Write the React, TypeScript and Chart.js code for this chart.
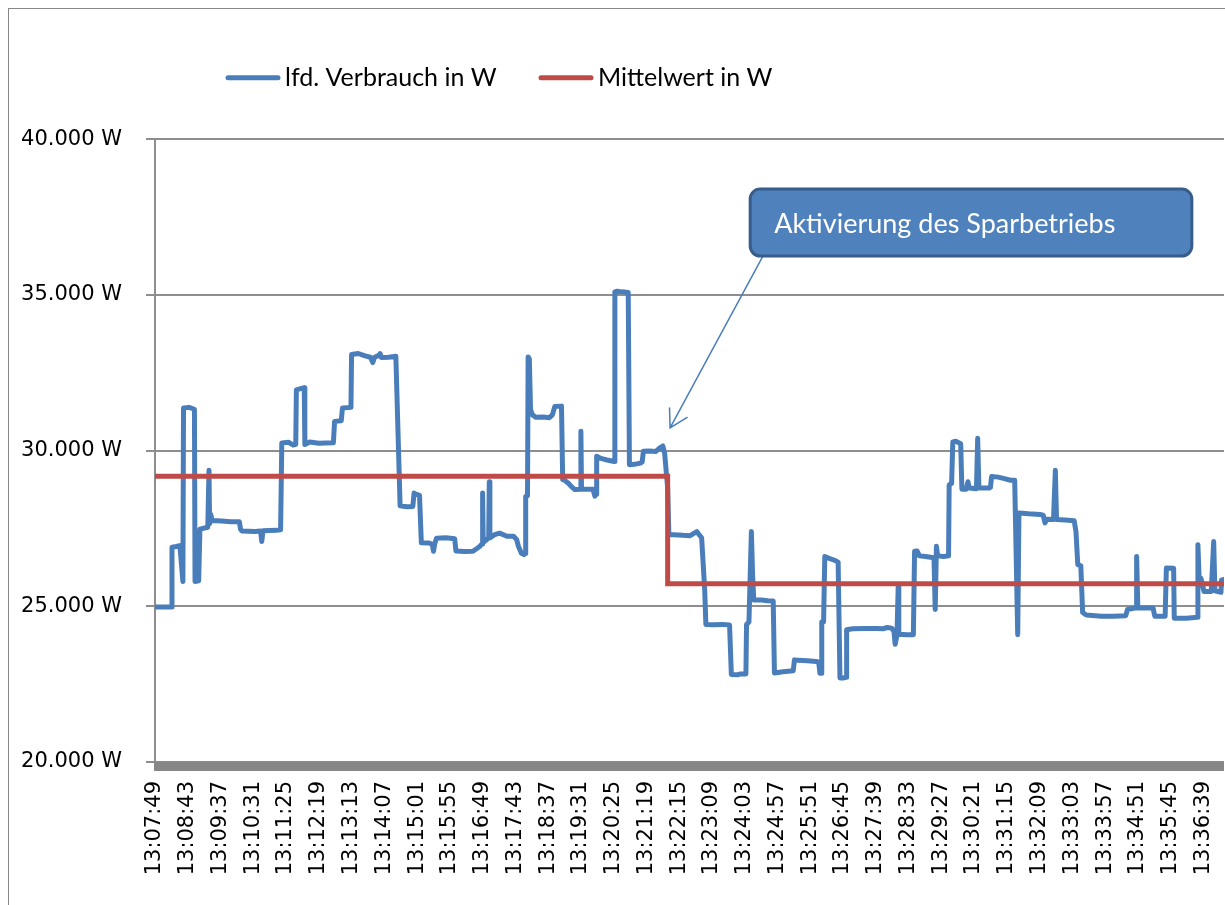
import React, { useEffect, useRef } from 'react';
import { Chart, registerables } from 'chart.js';

Chart.register(...registerables);

// ---------- data ----------
const TIME_LABELS = [
  '13:07:49', '13:08:43', '13:09:37', '13:10:31', '13:11:25', '13:12:19', '13:13:13',
  '13:14:07', '13:15:01', '13:15:55', '13:16:49', '13:17:43', '13:18:37', '13:19:31',
  '13:20:25', '13:21:19', '13:22:15', '13:23:09', '13:24:03', '13:24:57', '13:25:51',
  '13:26:45', '13:27:39', '13:28:33', '13:29:27', '13:30:21', '13:31:15', '13:32:09',
  '13:33:03', '13:33:57', '13:34:51', '13:35:45', '13:36:39',
];
const LABEL_STEP = 54; // measurement rows between two axis labels
const ROW_MAX = 1762; // last measurement row

const SERIES_NAMES = ['lfd. Verbrauch in W', 'Mittelwert in W'];

// lfd. Verbrauch: measurement row index and watts (change points)
const VERBRAUCH_ROWS = [
  0, 27, 28, 35, 41, 46, 47, 56, 65, 66, 72, 74, 87, 89, 90, 92, 94, 110, 125, 139,
  141, 143, 165, 174, 176, 178, 200, 207, 209, 220, 228, 232, 233, 240, 246, 247, 255, 270, 294, 296,
  307, 309, 323, 324, 335, 345, 355, 359, 362, 369, 371, 373, 385, 397, 404, 415, 425, 427, 430, 436,
  439, 452, 457, 459, 461, 464, 480, 494, 496, 510, 524, 530, 535, 539, 540, 541, 550, 551, 552, 560,
  568, 580, 591, 596, 599, 604, 608, 610, 611, 614, 615, 617, 619, 622, 628, 640, 650, 655, 659, 670,
  672, 675, 681, 686, 692, 701, 702, 703, 722, 725, 727, 728, 735, 745, 757, 758, 762, 770, 780, 782,
  790, 800, 803, 805, 815, 825, 833, 837, 840, 845, 847, 855, 870, 882, 893, 897, 901, 906, 908, 920,
  935, 947, 950, 960, 965, 974, 975, 979, 983, 985, 987, 1000, 1010, 1019, 1021, 1035, 1052, 1054, 1060, 1075,
  1090, 1094, 1096, 1098, 1099, 1102, 1104, 1110, 1120, 1126, 1129, 1134, 1139, 1140, 1150, 1170, 1190, 1200, 1207, 1214,
  1218, 1220, 1223, 1225, 1226, 1240, 1250, 1252, 1256, 1260, 1270, 1284, 1286, 1288, 1290, 1300, 1308, 1309, 1313, 1315,
  1320, 1328, 1330, 1337, 1340, 1342, 1354, 1356, 1358, 1375, 1377, 1379, 1390, 1400, 1410, 1417, 1422, 1424, 1440, 1459,
  1464, 1467, 1470, 1481, 1484, 1486, 1500, 1515, 1518, 1521, 1526, 1529, 1535, 1560, 1580, 1600, 1603, 1617, 1618, 1620,
  1645, 1648, 1665, 1667, 1679, 1680, 1700, 1718, 1719, 1721, 1724, 1729, 1741, 1745, 1747, 1757, 1758, 1762,
];
const VERBRAUCH_W = [
  24980, 24980, 26900, 26920, 26950, 25800, 31370, 31390, 31330, 25800, 25820, 27480, 27540, 29370, 27650, 27950, 27760, 27740, 27720, 27720,
  27480, 27420, 27400, 27420, 27080, 27430, 27440, 27460, 30250, 30270, 30180, 30200, 31950, 31990, 32020, 30200, 30280, 30240, 30250, 30940,
  30960, 31370, 31390, 33090, 33120, 33050, 33000, 32830, 33000, 33060, 33120, 32990, 33000, 33030, 28230, 28200, 28210, 28640, 28600, 28560,
  27040, 27030, 27000, 26770, 27000, 27190, 27200, 27170, 26780, 26760, 26770, 26850, 26920, 27000, 28640, 27050, 27200, 29000, 27200, 27300,
  27350, 27250, 27250, 27150, 26930, 26700, 26660, 26700, 28530, 28550, 33010, 32950, 31320, 31150, 31070, 31080, 31060, 31150, 31420, 31430,
  29070, 29050, 28960, 28850, 28750, 28760, 30620, 28760, 28760, 28540, 28600, 29820, 29750, 29700, 29650, 35100, 35120, 35100, 35080, 29550,
  29560, 29600, 29640, 29980, 29990, 29970, 30100, 30150, 29920, 28800, 27300, 27300, 27280, 27270, 27400, 27300, 27200, 25550, 24420, 24410,
  24420, 24400, 22810, 22800, 22830, 22830, 24420, 24500, 27400, 26000, 25200, 25200, 25180, 25170, 22860, 22900, 22930, 23280, 23270, 23250,
  23230, 23200, 22850, 22850, 24500, 24500, 26600, 26550, 26480, 26420, 22700, 22700, 22720, 24250, 24280, 24290, 24290, 24280, 24320, 24300,
  24200, 23780, 24080, 25640, 24100, 24090, 24090, 26770, 26780, 26620, 26600, 26560, 24900, 26930, 26620, 26600, 26620, 28900, 28950, 30280,
  30300, 30220, 28760, 28760, 29000, 28800, 28780, 30400, 28800, 28800, 28820, 29170, 29150, 29100, 29050, 29050, 24090, 28000, 27970, 27950,
  27930, 27680, 27800, 27790, 29370, 27790, 27770, 27750, 27400, 26340, 26300, 24800, 24720, 24680, 24680, 24700, 24900, 24950, 26600, 24950,
  24950, 24680, 24680, 26230, 26220, 24620, 24620, 24650, 26980, 25900, 25900, 25480, 25480, 27080, 25500, 25450, 25850, 25860,
];

// Mittelwert: before / after activation of the saving mode
const MITTEL_ROWS = [0, 845, 845, 1762];
const MITTEL_W = [29175, 29175, 25725, 25725];

const Y_MIN = 20000;
const Y_MAX = 40000;
const Y_STEP = 5000;

// Annotation (in data coordinates: rows / watts)
const ANNOTATION_TEXT = 'Aktivierung des Sparbetriebs';
const ANNOTATION_ROWS = [981, 1709];
const ANNOTATION_W = [38400, 36250];
const ARROW_FROM = [1002, 36250];
const ARROW_TO = [849, 30730];

// ---------- styles ----------
const BLUE = '#4A7EBB';
const RED = '#BE4B48';
const GRID = '#8E8E8E';
const CANVAS_W = 1224;
const CANVAS_H = 896;
const AREA_LEFT = 146;
const AREA_TOP = 130.3;
const AREA_RIGHT = 1215;
const AREA_BOTTOM = 753;

const fmtWatt = (v: number) => String(v).replace(/\B(?=(\d{3})+(?!\d))/g, '.') + ' W';

const bandPlugin = {
  id: 'axisBand',
  afterDatasetsDraw(chart: any) {
    const { ctx, chartArea } = chart;
    ctx.save();
    ctx.fillStyle = '#878787';
    ctx.fillRect(chartArea.left - 1, chartArea.bottom - 0.5, chartArea.right - chartArea.left + 1, 9.5);
    ctx.restore();
  },
};

const legendPlugin = {
  id: 'customLegend',
  afterDraw(chart: any) {
    const { ctx } = chart;
    const items = [
      { x: 217, color: BLUE, text: SERIES_NAMES[0] },
      { x: 530, color: RED, text: SERIES_NAMES[1] },
    ];
    ctx.save();
    for (const it of items) {
      ctx.strokeStyle = it.color;
      ctx.lineWidth = 5;
      ctx.lineCap = 'round';
      ctx.beginPath();
      ctx.moveTo(it.x + 2, 68.7);
      ctx.lineTo(it.x + 52, 68.7);
      ctx.stroke();
      ctx.fillStyle = '#000';
      ctx.font = '25px Lato';
      ctx.textBaseline = 'alphabetic';
      ctx.textAlign = 'left';
      ctx.fillText(it.text, it.x + 59, 76.7);
    }
    ctx.restore();
  },
};

const annotationPlugin = {
  id: 'sparAnnotation',
  afterDraw(chart: any) {
    const { ctx } = chart;
    const xs = chart.scales.x;
    const ys = chart.scales.y;
    const l = xs.getPixelForValue(ANNOTATION_ROWS[0]);
    const r = xs.getPixelForValue(ANNOTATION_ROWS[1]);
    const t = ys.getPixelForValue(ANNOTATION_W[0]);
    const b = ys.getPixelForValue(ANNOTATION_W[1]);
    const fx = xs.getPixelForValue(ARROW_FROM[0]);
    const fy = ys.getPixelForValue(ARROW_FROM[1]);
    const tx = xs.getPixelForValue(ARROW_TO[0]);
    const ty = ys.getPixelForValue(ARROW_TO[1]);
    ctx.save();
    // arrow
    ctx.strokeStyle = BLUE;
    ctx.lineWidth = 1.5;
    ctx.lineCap = 'round';
    ctx.beginPath();
    ctx.moveTo(fx, fy);
    ctx.lineTo(tx, ty);
    const ang = Math.atan2(fy - ty, fx - tx);
    const len = 20;
    const spread = (30 * Math.PI) / 180;
    ctx.moveTo(tx + len * Math.cos(ang - spread), ty + len * Math.sin(ang - spread));
    ctx.lineTo(tx, ty);
    ctx.lineTo(tx + len * Math.cos(ang + spread), ty + len * Math.sin(ang + spread));
    ctx.stroke();
    // box
    ctx.beginPath();
    ctx.roundRect(l, t, r - l, b - t, 10);
    ctx.fillStyle = '#4F81BD';
    ctx.fill();
    ctx.lineWidth = 3;
    ctx.strokeStyle = '#385D8A';
    ctx.stroke();
    ctx.fillStyle = '#FFFFFF';
    ctx.font = '27px Lato';
    ctx.textAlign = 'left';
    ctx.textBaseline = 'alphabetic';
    ctx.fillText(ANNOTATION_TEXT, l + 24, (t + b) / 2 + 10);
    ctx.restore();
  },
};

export default function App() {
  const ref = useRef<HTMLCanvasElement>(null);

  useEffect(() => {
    if (!ref.current) return;
    const verbrauch = VERBRAUCH_ROWS.map((x, i) => ({ x, y: VERBRAUCH_W[i] }));
    const mittel = MITTEL_ROWS.map((x, i) => ({ x, y: MITTEL_W[i] }));
    const chart = new Chart(ref.current, {
      type: 'line',
      data: {
        datasets: [
          {
            label: SERIES_NAMES[0],
            data: verbrauch,
            borderColor: BLUE,
            backgroundColor: BLUE,
            borderWidth: 5,
            pointRadius: 0,
            tension: 0,
            borderJoinStyle: 'round',
            borderCapStyle: 'round',
            order: 2,
          },
          {
            label: SERIES_NAMES[1],
            data: mittel,
            borderColor: RED,
            backgroundColor: RED,
            borderWidth: 5,
            pointRadius: 0,
            tension: 0,
            borderJoinStyle: 'miter',
            borderCapStyle: 'butt',
            order: 1,
          },
        ],
      },
      options: {
        responsive: false,
        animation: false,
        events: [],
        layout: { padding: { top: AREA_TOP, right: CANVAS_W - AREA_RIGHT, left: 0, bottom: 0 } },
        plugins: { legend: { display: false }, tooltip: { enabled: false }, title: { display: false } },
        scales: {
          x: {
            type: 'linear',
            min: 0,
            max: ROW_MAX,
            afterBuildTicks: (scale: any) => {
              scale.ticks = TIME_LABELS.map((_, i) => ({ value: i * LABEL_STEP }));
            },
            afterFit: (scale: any) => {
              scale.height = CANVAS_H - AREA_BOTTOM;
              scale.paddingLeft = 0;
              scale.paddingRight = 0;
            },
            ticks: {
              autoSkip: false,
              minRotation: 90,
              maxRotation: 90,
              padding: 19,
              color: '#000',
              font: { family: 'DejaVu Sans', size: 21 },
              callback: (value: any) => TIME_LABELS[Math.round(Number(value) / LABEL_STEP)] ?? '',
            },
            grid: { display: false, drawTicks: false, tickLength: 0 },
            border: { display: false },
          },
          y: {
            type: 'linear',
            min: Y_MIN,
            max: Y_MAX,
            afterFit: (scale: any) => {
              scale.width = AREA_LEFT;
              scale.paddingTop = 0;
              scale.paddingBottom = 0;
            },
            ticks: {
              stepSize: Y_STEP,
              padding: 24,
              color: '#000',
              font: { family: 'DejaVu Sans', size: 21 },
              callback: (value: any) => fmtWatt(Number(value)),
            },
            grid: { color: GRID, lineWidth: 2, drawTicks: true, tickLength: 9 },
            border: { display: true, color: GRID, width: 2 },
          },
        },
      },
      plugins: [bandPlugin, legendPlugin, annotationPlugin],
    } as any);
    return () => chart.destroy();
  }, []);

  return (
    <div style={{ position: 'absolute', left: 0, top: 0, width: 1225, height: 905, overflow: 'hidden', background: '#fff' }}>
      <div
        style={{
          position: 'absolute',
          left: 8,
          top: 8,
          width: CANVAS_W + 2,
          height: CANVAS_H + 2,
          border: '1px solid #868686',
          boxSizing: 'content-box',
          background: '#fff',
        }}
      >
        <canvas ref={ref} width={CANVAS_W} height={CANVAS_H} style={{ display: 'block', width: CANVAS_W, height: CANVAS_H }} />
      </div>
    </div>
  );
}
